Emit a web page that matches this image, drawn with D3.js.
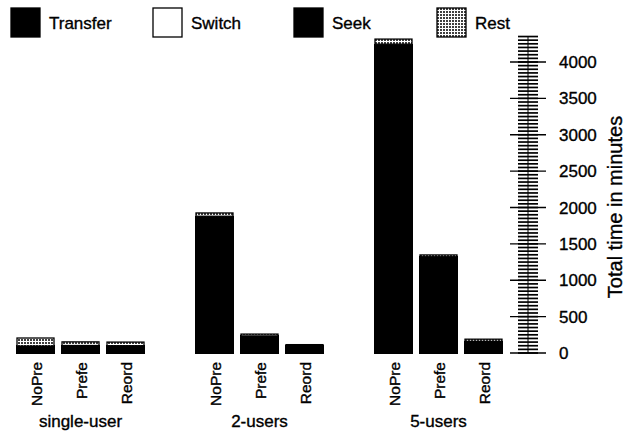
<!DOCTYPE html>
<html>
<head>
<meta charset="utf-8">
<script src="https://cdn.jsdelivr.net/npm/d3@7"></script>
<style>
  body { margin: 0; background: #fff; }
  svg { font-family: "Liberation Sans", Arial, sans-serif; }
  text { stroke: #000; stroke-width: 0.35px; }
</style>
</head>
<body>
<svg id="chart"></svg>
<script>
// data (minutes)
const groups = ["single-user", "2-users", "5-users"];
const methods = ["NoPre", "Prefe", "Reord"];
const keys = ["Transfer", "Switch", "Seek", "Rest"];
// one value per bar, group by group: NoPre, Prefe, Reord
const transfer = [55, 55, 55, 110, 110, 55, 180, 180, 80];
const switchT = [2, 2, 2, 3, 2, 2, 4, 3, 2];
const seek = [39, 46, 43, 1767, 123, 41, 4061, 1140, 78];
const rest = [110, 50, 50, 45, 25, 17, 70, 25, 30];
const yTicks = [0, 500, 1000, 1500, 2000, 2500, 3000, 3500, 4000];

const w = 627;
const h = 434;

const svg = d3.select("#chart").attr("width", w).attr("height", h);

// dotted fill for "Rest"
const defs = svg.append("defs");
const pat = defs
  .append("pattern")
  .attr("id", "dots")
  .attr("width", 3)
  .attr("height", 3)
  .attr("patternUnits", "userSpaceOnUse");
pat.append("rect").attr("width", 3).attr("height", 3).attr("fill", "#fff");
pat.append("circle").attr("cx", 1).attr("cy", 1).attr("r", 1).attr("fill", "#000");

const fills = { Transfer: "#000", Switch: "#000", Seek: "#000", Rest: "url(#dots)" };
const legendFills = { Transfer: "#000", Switch: "#fff", Seek: "#000", Rest: "url(#dots)" };

//build table
const table = [];
groups.forEach((g, gi) => {
  methods.forEach((m, mi) => {
    const i = gi * methods.length + mi;
    table.push({
      group: g,
      method: m,
      Transfer: transfer[i],
      Switch: switchT[i],
      Seek: seek[i],
      Rest: rest[i],
    });
  });
});

//scales
const xGroup = d3.scaleBand().domain(groups).range([17, 502]).paddingInner(52 / 179);
const xMethod = d3
  .scaleBand()
  .domain(methods)
  .range([0, xGroup.bandwidth()])
  .paddingInner(8 / 45);
const yScale = d3.scaleLinear().domain([0, 4000]).range([353, 62]);

//stacked bars
const stacked = d3.stack().keys(keys)(table);
stacked.forEach((layer) => {
  svg
    .append("g")
    .selectAll("rect")
    .data(layer)
    .enter()
    .append("rect")
    .attr("x", (d) => xGroup(d.data.group) + xMethod(d.data.method))
    .attr("y", (d) => yScale(d[1]))
    .attr("width", xMethod.bandwidth())
    .attr("height", (d) => yScale(d[0]) - yScale(d[1]))
    .attr("fill", fills[layer.key])
    .attr("stroke", "#000")
    .attr("stroke-width", 1.3)
    .attr("shape-rendering", layer.key === "Rest" ? "auto" : "crispEdges");
});

//method labels (rotated)
table.forEach((d) => {
  const cx = xGroup(d.group) + xMethod(d.method) + xMethod.bandwidth() / 2;
  svg
    .append("text")
    .attr("transform", `translate(${cx + 6},362) rotate(-90)`)
    .attr("text-anchor", "end")
    .attr("font-size", 15.5)
    .text(d.method);
});

//group labels
svg
  .selectAll(".glabel")
  .data(groups)
  .enter()
  .append("text")
  .attr("class", "glabel")
  .attr("x", (d) => xGroup(d) + xGroup.bandwidth() / 2)
  .attr("y", 427)
  .attr("text-anchor", "middle")
  .attr("font-size", 17)
  .text((d) => d);

//right axis with dense minor ticks
const axisX = 528;
const minor = d3.range(0, 4351, 50);
const axis = svg.append("g");
axis
  .append("line")
  .attr("x1", axisX)
  .attr("x2", axisX)
  .attr("y1", yScale(0))
  .attr("y2", yScale(4350))
  .attr("stroke", "#000")
  .attr("stroke-width", 1);
axis
  .selectAll(".minor")
  .data(minor)
  .enter()
  .append("line")
  .attr("x1", 518)
  .attr("x2", 538)
  .attr("y1", (d) => yScale(d))
  .attr("y2", (d) => yScale(d))
  .attr("stroke", "#000")
  .attr("stroke-width", 1.7);
axis
  .selectAll(".major")
  .data(yTicks)
  .enter()
  .append("line")
  .attr("x1", 510)
  .attr("x2", 546)
  .attr("y1", (d) => yScale(d))
  .attr("y2", (d) => yScale(d))
  .attr("stroke", "#000")
  .attr("stroke-width", 1.4);
axis
  .selectAll(".tlabel")
  .data(yTicks)
  .enter()
  .append("text")
  .attr("x", 559)
  .attr("y", (d) => yScale(d))
  .attr("dy", "0.36em")
  .attr("font-size", 17)
  .text((d) => d);

svg
  .append("text")
  .attr("transform", `translate(622,207) rotate(-90)`)
  .attr("text-anchor", "middle")
  .attr("font-size", 20)
  .text("Total time in minutes");

//legend
const legendX = [11, 153, 294, 437];
const legend = svg
  .selectAll(".legend")
  .data(keys)
  .enter()
  .append("g")
  .attr("transform", (d, i) => `translate(${legendX[i]},8)`);
legend
  .append("rect")
  .attr("width", 29)
  .attr("height", 29)
  .attr("fill", (d) => legendFills[d])
  .attr("stroke", "#000")
  .attr("stroke-width", 1.3);
legend
  .append("text")
  .attr("x", 38)
  .attr("y", 21)
  .attr("font-size", 17)
  .text((d) => d);
</script>
</body>
</html>
